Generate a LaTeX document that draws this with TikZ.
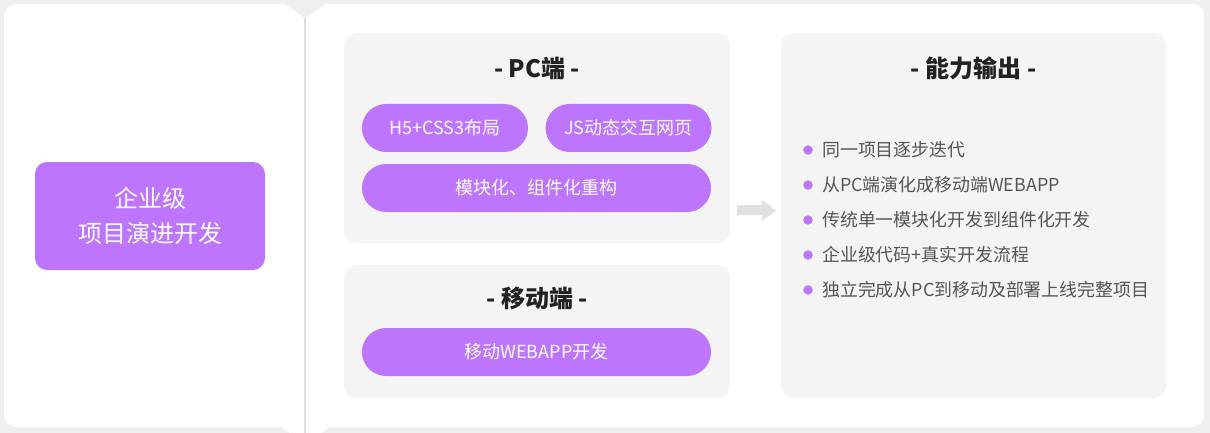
\documentclass[tikz,border=0pt]{standalone}
\usepackage{fontspec}
\setmainfont{Noto Sans CJK SC}
\definecolor{purp}{RGB}{189,117,253}
\definecolor{bggrey}{RGB}{239,239,239}
\definecolor{boxgrey}{RGB}{244,244,244}
\definecolor{linegrey}{RGB}{221,221,221}
\definecolor{arrowgrey}{RGB}{224,224,224}
\definecolor{titlecol}{RGB}{34,34,34}
\definecolor{txtcol}{RGB}{85,85,85}
\tikzset{
  panel/.style={fill=boxgrey, draw=none, rounded corners=12pt, inner sep=0pt},
  pill/.style={fill=purp, draw=none, rounded corners=24pt, minimum height=48pt, inner sep=0pt,
    text=white, font=\fontsize{18}{21}\selectfont},
  ttl/.style={text=titlecol, font=\fontsize{24}{28}\selectfont\bfseries, inner sep=0pt},
  dot/.style={circle, fill=purp, minimum size=9.5pt, inner sep=0pt},
  item/.style={anchor=west, text=txtcol, font=\fontsize{17.9}{21}\selectfont, inner sep=0pt},
}
\begin{document}
\begin{tikzpicture}[x=1pt,y=-1pt]
\useasboundingbox (0,0) rectangle (1210,433);
\fill[bggrey] (0,0) rectangle (1210,433);
\fill[white, rounded corners=12pt] (4,4) rectangle (1204,427);
\fill[bggrey] (283,3) -- (327,3) -- (305,18) -- cycle;
\fill[white] (280,426) -- (291,434) -- (320,434) -- (331,426) -- cycle;
\draw[linegrey, line width=2pt] (305,18) -- (305,433);

% left box
\node[fill=purp, rounded corners=12pt, minimum width=230pt, minimum height=108pt, inner sep=0pt,
  text=white, align=center, font=\fontsize{24}{35}\selectfont] (root) at (150,216) {企业级\\项目演进开发};

% PC panel
\node[panel, minimum width=386pt, minimum height=210pt] (pc) at (537,138) {};
\node[ttl] (pct) at (537,68) {- PC端 -};
\node[pill, minimum width=166pt] (h5) at (445,128) {H5+CSS3布局};
\node[pill, minimum width=166pt] (js) at (628.5,128) {JS动态交互网页};
\node[pill, minimum width=349pt] (mod) at (536.5,188) {模块化、组件化重构};

% mobile panel
\node[panel, minimum width=386pt, minimum height=133pt] (mob) at (537,331.5) {};
\node[ttl] (mobt) at (537,298) {- 移动端 -};
\node[pill, minimum width=349pt] (wa) at (536.5,352) {移动WEBAPP开发};

% right panel
\node[panel, minimum width=385pt, minimum height=365pt] (out) at (973.5,215.5) {};
\node[ttl] (outt) at (973.5,68) {- 能力输出 -};

% arrow
\fill[arrowgrey] (737,205) -- (762,205) -- (762,200) -- (776,210.5) -- (762,221) -- (762,215) -- (737,215) -- cycle;

% bullets
\node[dot] (d1) at (808,150) {};
\node[item] (t1) at (822,150) {同一项目逐步迭代};
\node[dot] (d2) at (808,185) {};
\node[item] (t2) at (822,185) {从PC端演化成移动端WEBAPP};
\node[dot] (d3) at (808,220) {};
\node[item] (t3) at (822,220) {传统单一模块化开发到组件化开发};
\node[dot] (d4) at (808,255) {};
\node[item] (t4) at (822,255) {企业级代码+真实开发流程};
\node[dot] (d5) at (808,290) {};
\node[item] (t5) at (822,290) {独立完成从PC到移动及部署上线完整项目};
\end{tikzpicture}
\end{document}
